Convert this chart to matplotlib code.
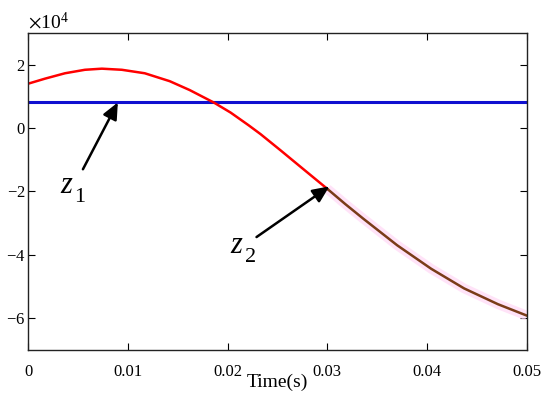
import matplotlib
matplotlib.use("Agg")

import matplotlib.pyplot as plt
import numpy as np
from matplotlib.ticker import ScalarFormatter

plt.rcParams["font.family"] = ["Liberation Serif", "DejaVu Serif"]
plt.rcParams["mathtext.fontset"] = "stix"

# curve values (units of 1e4)
time_s = [0.0, 0.0017, 0.0037, 0.0057, 0.0074, 0.0094, 0.0117, 0.0142,
          0.0162, 0.0186, 0.0203, 0.0221, 0.0233, 0.0253, 0.0273, 0.0300,
          0.0318, 0.0336, 0.0370, 0.0404, 0.0437, 0.0471, 0.0500]
z2_vals = [1.40, 1.56, 1.73, 1.84, 1.875, 1.84, 1.73, 1.48,
           1.20, 0.81, 0.49, 0.09, -0.19, -0.70, -1.22, -1.92,
           -2.40, -2.86, -3.70, -4.44, -5.06, -5.56, -5.92]
z1_val = 0.81
split_t = 0.030

t = np.array(time_s)
z2 = np.array(z2_vals) * 1e4
z1 = np.full_like(t, z1_val * 1e4)

fig = plt.figure(figsize=(5.5, 3.98), dpi=100)
ax = fig.add_axes([0.051, 0.121, 0.907, 0.796])

late = t >= split_t
early = t <= split_t
ax.plot(t[late], z2[late], color="#ffd8f6", lw=7, solid_capstyle="butt", alpha=0.7)
ax.plot(t, z1, color="#1010d0", lw=2.2)
ax.plot(t[early], z2[early], color="#ff0000", lw=1.8, solid_joinstyle="round")
ax.plot(t[late], z2[late], color="#7a3c18", lw=1.8, solid_joinstyle="round")

ax.set_xlim(0, 0.05)
ax.set_ylim(-7e4, 3e4)
ax.set_xticks([0, 0.01, 0.02, 0.03, 0.04, 0.05])
ax.set_xticklabels(["0", "0.01", "0.02", "0.03", "0.04", "0.05"])
ax.set_yticks([-6e4, -4e4, -2e4, 0, 2e4])

fmt = ScalarFormatter(useMathText=True)
fmt.set_powerlimits((0, 0))
ax.yaxis.set_major_formatter(fmt)
ax.yaxis.get_offset_text().set_fontsize(14)

ax.tick_params(direction="in", top=True, right=True, length=5, labelsize=12)
ax.tick_params(axis="x", pad=10)
ax.tick_params(axis="y", pad=2)
for s in ax.spines.values():
    s.set_linewidth(1.0)
    s.set_color("#222222")

ax.set_xlabel("Time(s)", fontsize=14, labelpad=-4)

arrow = dict(arrowstyle="-|>,head_length=1.0,head_width=0.45", color="black", lw=1.8,
             shrinkA=0, shrinkB=0)
ax.annotate("", xy=(0.0090, 0.81e4), xytext=(0.0055, -1.3e4), arrowprops=arrow)
ax.annotate("", xy=(0.0302, -1.84e4), xytext=(0.0229, -3.44e4), arrowprops=arrow)

for (lx, ly), sub in [((0.0038, -1.8e4), "1"), ((0.0209, -3.7e4), "2")]:
    ax.text(lx, ly, "z", fontsize=22, style="italic", ha="center", va="center")
    ax.annotate(sub, xy=(lx, ly), xytext=(10, -9), textcoords="offset points",
                fontsize=16, ha="center", va="center")

fig.savefig("out.png", dpi=100)
plt.close(fig)
